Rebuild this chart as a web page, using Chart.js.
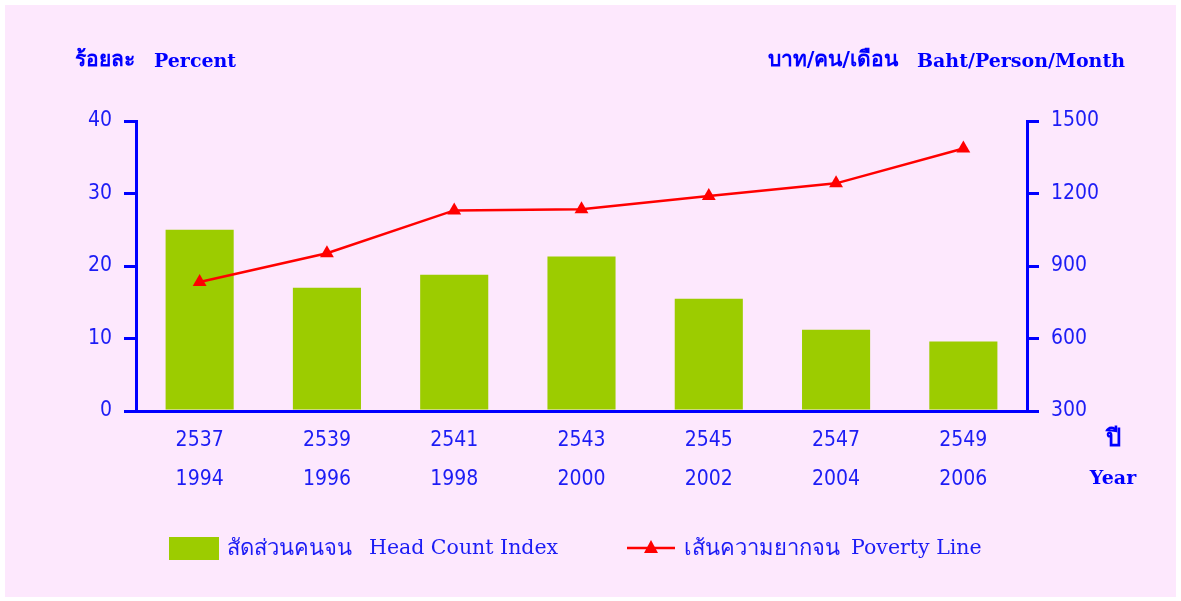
<!DOCTYPE html>
<html>
<head>
<meta charset="utf-8">
<script src="https://cdn.jsdelivr.net/npm/chart.js@4.4.1/dist/chart.umd.min.js"></script>
<style>
  html, body { margin: 0; padding: 0; background: #ffffff; }
  #wrap { width: 1181px; height: 601px; }
</style>
</head>
<body>
<div id="wrap"><canvas id="myChart" width="1181" height="601"></canvas></div>
<script>
// ข้อมูล
const yearsBE = ["2537", "2539", "2541", "2543", "2545", "2547", "2549"];
const yearsAD = ["1994", "1996", "1998", "2000", "2002", "2004", "2006"];
const headCount = [25.0, 17.0, 18.8, 21.3, 15.5, 11.2, 9.6];
const povertyLine = [834, 953, 1130, 1135, 1190, 1242, 1386];
const leftTicks = [0, 10, 20, 30, 40];
const rightTicks = [300, 600, 900, 1200, 1500];

const BLUE = "#0000ff";
const TXT = "#1c1cf5";
const GREEN = "#9ccc00";
const RED = "#ff0000";
const PINK = "#fde8fd";
const tickFont = { family: "'DejaVu Sans Condensed', 'Liberation Sans', sans-serif", size: 21 };
const boldFont = "bold 19px 'DejaVu Serif', serif";
const thaiBold = "bold 21px 'DejaVu Serif', serif";
const thaiFont = "22px 'Liberation Serif', serif";
const latinFont = "20.5px 'DejaVu Serif', serif";

const labels = yearsBE.map((b, i) => [b, yearsAD[i]]);

// ฉากหลัง + ข้อความ + legend
const decor = {
  id: "decor",
  beforeDraw(chart) {
    const ctx = chart.ctx;
    ctx.save();
    ctx.fillStyle = PINK;
    ctx.fillRect(5, 5, 1171, 592);
    ctx.restore();
  },
  afterDraw(chart) {
    const ctx = chart.ctx;
    ctx.save();
    ctx.fillStyle = BLUE;
    ctx.textBaseline = "middle";
    ctx.textAlign = "left";
    ctx.font = thaiBold;
    ctx.fillText("ร้อยละ", 75, 61);
    ctx.font = boldFont;
    ctx.fillText("Percent", 154, 62);
    ctx.textAlign = "right";
    ctx.font = thaiBold;
    ctx.fillText("บาท/คน/เดือน", 898, 61);
    ctx.font = boldFont;
    ctx.fillText("Baht/Person/Month", 1125, 62);
    ctx.textAlign = "center";
    ctx.font = "bold 24px 'DejaVu Serif', serif";
    ctx.fillText("ปี", 1113, 440);
    ctx.font = boldFont;
    ctx.fillText("Year", 1113, 479);

    // legend
    ctx.fillStyle = GREEN;
    ctx.fillRect(169, 537, 50, 23);
    ctx.strokeStyle = RED;
    ctx.lineWidth = 2.5;
    ctx.beginPath();
    ctx.moveTo(627, 548);
    ctx.lineTo(675, 548);
    ctx.stroke();
    ctx.fillStyle = RED;
    ctx.beginPath();
    ctx.moveTo(651, 540);
    ctx.lineTo(658, 553);
    ctx.lineTo(644, 553);
    ctx.closePath();
    ctx.fill();

    ctx.fillStyle = TXT;
    ctx.textAlign = "left";
    ctx.font = thaiFont;
    ctx.fillText("สัดส่วนคนจน", 227, 549);
    ctx.fillText("เส้นความยากจน", 684, 549);
    ctx.font = latinFont;
    ctx.fillText("Head Count Index", 369, 549);
    ctx.fillText("Poverty Line", 851, 549);
    ctx.restore();
  }
};

const ctx = document.getElementById("myChart").getContext("2d");
const myChart = new Chart(ctx, {
  type: "bar",
  data: {
    labels: labels,
    datasets: [
      {
        type: "line",
        label: "เส้นความยากจน Poverty Line",
        data: povertyLine,
        yAxisID: "y1",
        borderColor: RED,
        backgroundColor: RED,
        borderWidth: 2.5,
        pointStyle: "triangle",
        pointRadius: 8,
        pointBorderWidth: 0,
        tension: 0,
        order: 0
      },
      {
        label: "สัดส่วนคนจน Head Count Index",
        data: headCount,
        yAxisID: "y",
        backgroundColor: GREEN,
        barPercentage: 0.535,
        categoryPercentage: 1,
        order: 1
      }
    ]
  },
  options: {
    responsive: false,
    animation: false,
    layout: { padding: { left: 0, right: 0, top: 121, bottom: 90 } },
    plugins: {
      legend: { display: false },
      tooltip: { enabled: false }
    },
    scales: {
      x: {
        offset: true,
        grid: { display: false, drawTicks: false },
        border: { display: true, color: BLUE, width: 3 },
        ticks: { color: TXT, font: { ...tickFont, lineHeight: "39px" }, padding: 10, maxRotation: 0, autoSkip: false },
        afterFit: s => { s.height = 100; }
      },
      y: {
        position: "left",
        min: leftTicks[0],
        max: leftTicks[leftTicks.length - 1],
        afterBuildTicks: s => { s.ticks = leftTicks.map(v => ({ value: v })); },
        grid: { drawOnChartArea: false, color: BLUE, lineWidth: 3, tickLength: 12 },
        border: { color: BLUE, width: 3 },
        ticks: { color: TXT, font: tickFont, padding: 12, callback: v => String(v) },
        afterFit: s => { s.width = 136; }
      },
      y1: {
        position: "right",
        min: rightTicks[0],
        max: rightTicks[rightTicks.length - 1],
        afterBuildTicks: s => { s.ticks = rightTicks.map(v => ({ value: v })); },
        grid: { drawOnChartArea: false, color: BLUE, lineWidth: 3, tickLength: 12 },
        border: { color: BLUE, width: 3 },
        ticks: { color: TXT, font: tickFont, padding: 12, callback: v => String(v) },
        afterFit: s => { s.width = 154; }
      }
    }
  },
  plugins: [decor]
});
</script>
</body>
</html>
